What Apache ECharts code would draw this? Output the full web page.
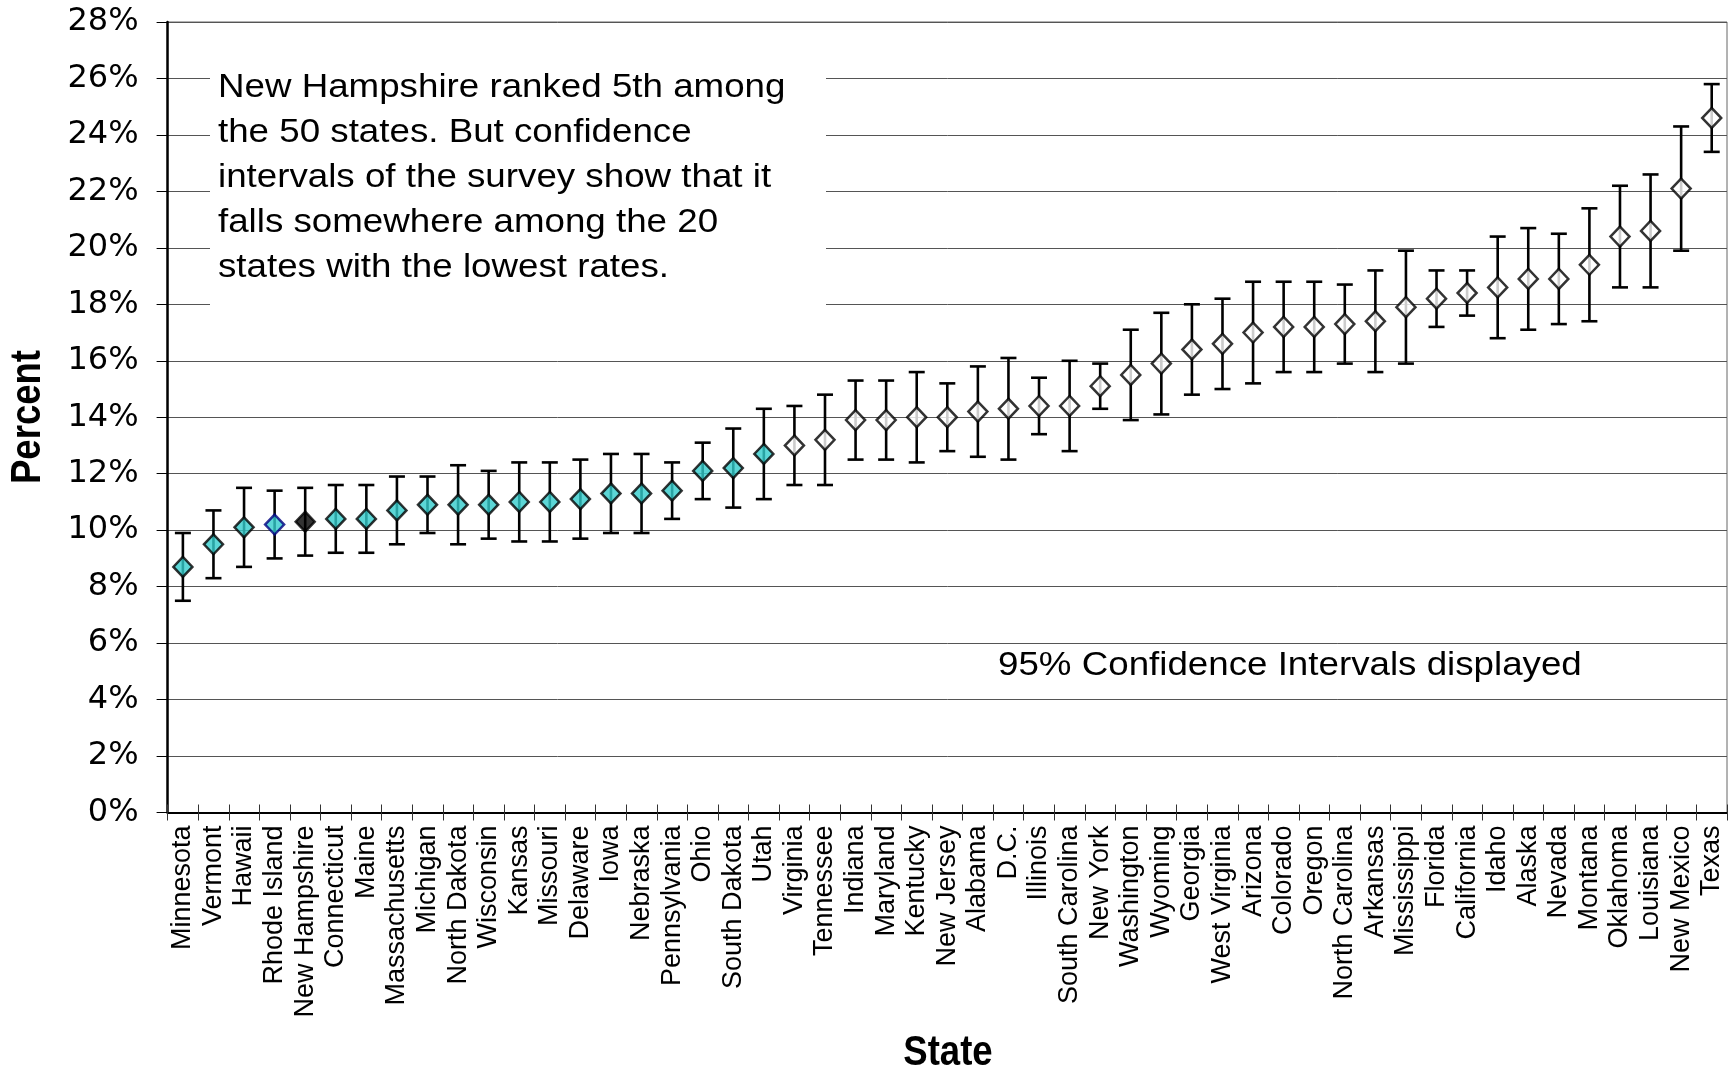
<!DOCTYPE html>
<html>
<head>
<meta charset="utf-8">
<title>Percent by State, 95% Confidence Intervals</title>
<script src="https://cdn.jsdelivr.net/npm/echarts@6/dist/echarts.min.js"></script>
<style>
  html, body { margin: 0; padding: 0; background: #fff; }
  #chart { width: 1729px; height: 1070px; }
</style>
</head>
<body>
<div id="chart"></div>
<script>
// States ordered from lowest to highest estimated rate
const states = [
  'Minnesota', 'Vermont', 'Hawaii', 'Rhode Island', 'New Hampshire', 'Connecticut',
  'Maine', 'Massachusetts', 'Michigan', 'North Dakota', 'Wisconsin', 'Kansas',
  'Missouri', 'Delaware', 'Iowa', 'Nebraska', 'Pennsylvania', 'Ohio', 'South Dakota',
  'Utah', 'Virginia', 'Tennessee', 'Indiana', 'Maryland', 'Kentucky', 'New Jersey',
  'Alabama', 'D.C.', 'Illinois', 'South Carolina', 'New York', 'Washington', 'Wyoming',
  'Georgia', 'West Virginia', 'Arizona', 'Colorado', 'Oregon', 'North Carolina',
  'Arkansas', 'Mississippi', 'Florida', 'California', 'Idaho', 'Alaska', 'Nevada',
  'Montana', 'Oklahoma', 'Louisiana', 'New Mexico', 'Texas'
];

// Point estimates (%)
const rates = [
  8.7, 9.5, 10.1, 10.2, 10.3, 10.4,
  10.4, 10.7, 10.9, 10.9, 10.9, 11.0,
  11.0, 11.1, 11.3, 11.3, 11.4, 12.1, 12.2,
  12.7, 13.0, 13.2, 13.9, 13.9, 14.0, 14.0,
  14.2, 14.3, 14.4, 14.4, 15.1, 15.5, 15.9,
  16.4, 16.6, 17.0, 17.2, 17.2, 17.3,
  17.4, 17.9, 18.2, 18.4, 18.6, 18.9, 18.9,
  19.4, 20.4, 20.6, 22.1, 24.6
];

// Lower bounds of the 95% confidence intervals (%)
const lowerCI = [
  7.5, 8.3, 8.7, 9.0, 9.1, 9.2,
  9.2, 9.5, 9.9, 9.5, 9.7, 9.6,
  9.6, 9.7, 9.9, 9.9, 10.4, 11.1, 10.8,
  11.1, 11.6, 11.6, 12.5, 12.5, 12.4, 12.8,
  12.6, 12.5, 13.4, 12.8, 14.3, 13.9, 14.1,
  14.8, 15.0, 15.2, 15.6, 15.6, 15.9,
  15.6, 15.9, 17.2, 17.6, 16.8, 17.1, 17.3,
  17.4, 18.6, 18.6, 19.9, 23.4
];

// Upper bounds of the 95% confidence intervals (%)
const upperCI = [
  9.9, 10.7, 11.5, 11.4, 11.5, 11.6,
  11.6, 11.9, 11.9, 12.3, 12.1, 12.4,
  12.4, 12.5, 12.7, 12.7, 12.4, 13.1, 13.6,
  14.3, 14.4, 14.8, 15.3, 15.3, 15.6, 15.2,
  15.8, 16.1, 15.4, 16.0, 15.9, 17.1, 17.7,
  18.0, 18.2, 18.8, 18.8, 18.8, 18.7,
  19.2, 19.9, 19.2, 19.2, 20.4, 20.7, 20.5,
  21.4, 22.2, 22.6, 24.3, 25.8
];

// Y-axis tick labels
const yTicks = [0, 2, 4, 6, 8, 10, 12, 14, 16, 18, 20, 22, 24, 26, 28];

const noteLines = [
  'New Hampshire ranked 5th among',
  'the 50 states. But confidence',
  'intervals of the survey show that it',
  'falls somewhere among the 20',
  'states with the lowest rates.'
];
const ciNote = '95% Confidence Intervals displayed';
const xTitle = 'State';
const yTitle = 'Percent';

// Marker styling: the 20 lowest states are shaded, New Hampshire is solid
const lowestCount = 20;
const focusState = 'New Hampshire';
const outlinedState = 'Rhode Island';
const TEAL = '#33CCCC';

function markerStyle(name, i) {
  if (name === focusState) return { color: '#000000', borderColor: '#000000', borderWidth: 2.5 };
  if (name === outlinedState) return { color: TEAL, borderColor: '#000080', borderWidth: 2.5 };
  if (i < lowestCount) return { color: TEAL, borderColor: '#000000', borderWidth: 2.5 };
  return { color: '#ffffff', borderColor: '#000000', borderWidth: 2.5 };
}

const pointData = states.map((s, i) => ({ value: [s, rates[i]], itemStyle: markerStyle(s, i) }));
const ciData = states.map((s, i) => [i, lowerCI[i], upperCI[i]]);

const chart = echarts.init(document.getElementById('chart'), null, { renderer: 'canvas' });

const labelFont = '"Liberation Sans", Arial, sans-serif';
const GRID = { left: 167.6, right: 2, top: 22, bottom: 257.5 };

chart.setOption({
  animation: false,
  backgroundColor: '#ffffff',
  grid: {
    left: GRID.left, right: GRID.right, top: GRID.top, bottom: GRID.bottom,
    containLabel: false,
    outerBoundsMode: 'none',
    show: true, borderColor: '#666', borderWidth: 1, backgroundColor: 'transparent'
  },
  xAxis: [
    {
      type: 'category',
      data: states,
      boundaryGap: true,
      axisLine: { show: true, lineStyle: { color: '#000', width: 2 } },
      axisTick: { show: true, interval: 0, length: 8, inside: false, lineStyle: { color: '#333', width: 1 } },
      axisLabel: {
        interval: 0, rotate: 90, margin: 13,
        fontFamily: labelFont, fontSize: 27, color: '#000'
      },
      splitLine: { show: false }
    },
    {
      // upper half of the crossing category ticks
      type: 'category',
      data: states,
      boundaryGap: true,
      position: 'bottom',
      axisLine: { show: false },
      axisTick: { show: true, interval: 0, length: 8, inside: true, lineStyle: { color: '#333', width: 1 } },
      axisLabel: { show: false },
      splitLine: { show: false }
    }
  ],
  yAxis: {
    type: 'value',
    min: 0, max: 28, interval: 2,
    axisLine: { show: true, lineStyle: { color: '#000', width: 2.5 } },
    axisTick: { show: true, length: 11, lineStyle: { color: '#000', width: 1 } },
    axisLabel: {
      margin: 29,
      fontFamily: '"DejaVu Sans", Verdana, sans-serif',
      fontSize: 32, color: '#000',
      formatter: v => (yTicks.indexOf(v) >= 0 ? v + '%' : '')
    },
    splitLine: { show: true, lineStyle: { color: '#555', width: 1 } }
  },
  graphic: [
    {
      type: 'rect',
      shape: { x: 210, y: 40, width: 616, height: 280 },
      style: { fill: '#ffffff' },
      z: 50
    },
    {
      type: 'text',
      x: 218, y: 65,
      scaleX: 1.08,
      style: {
        text: noteLines.join('\n'),
        font: '34px ' + labelFont,
        lineHeight: 45,
        fill: '#000'
      },
      z: 51
    },
    {
      type: 'text',
      x: 998, y: 649,
      scaleX: 1.08,
      style: {
        text: ciNote,
        font: '34px ' + labelFont,
        fill: '#000'
      },
      z: 51
    },
    {
      // axis titles in a condensed bold face
      type: 'text',
      x: 28, y: 417,
      rotation: Math.PI / 2,
      scaleX: 0.87,
      style: {
        text: yTitle,
        font: 'bold 42px ' + labelFont,
        align: 'center', verticalAlign: 'middle',
        fill: '#000'
      },
      z: 51
    },
    {
      type: 'text',
      x: 948, y: 1053,
      scaleX: 0.87,
      style: {
        text: xTitle,
        font: 'bold 42px ' + labelFont,
        align: 'center', verticalAlign: 'middle',
        fill: '#000'
      },
      z: 51
    }
  ],
  series: [
    {
      type: 'custom',
      name: '95% CI',
      xAxisIndex: 0,
      data: ciData,
      z: 3,
      renderItem: function (params, api) {
        const idx = api.value(0);
        const lo = api.coord([idx, api.value(1)]);
        const hi = api.coord([idx, api.value(2)]);
        const cap = 8;
        const style = { stroke: '#000', lineWidth: 2.6 };
        return {
          type: 'group',
          children: [
            { type: 'line', shape: { x1: hi[0], y1: hi[1], x2: lo[0], y2: lo[1] }, style: style },
            { type: 'line', shape: { x1: hi[0] - cap, y1: hi[1], x2: hi[0] + cap, y2: hi[1] }, style: style },
            { type: 'line', shape: { x1: lo[0] - cap, y1: lo[1], x2: lo[0] + cap, y2: lo[1] }, style: style }
          ]
        };
      }
    },
    {
      type: 'scatter',
      name: 'Percent',
      xAxisIndex: 0,
      symbol: 'diamond',
      symbolSize: [19, 20],
      data: pointData,
      z: 5
    }
  ]
});
</script>
</body>
</html>
